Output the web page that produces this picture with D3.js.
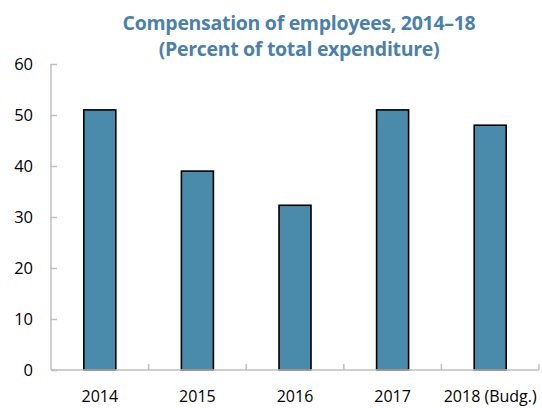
<html>
<head>
<script src="https://d3js.org/d3.v7.min.js"></script>
<style>
body { margin: 0; background: #fff; }
text { font-family: "Open Sans", sans-serif; }
</style>
</head>
<body>
<svg width="542" height="408"></svg>
<script>
var years = ["2014", "2015", "2016", "2017", "2018 (Budg.)"];
var values = [51, 39, 32.3, 51, 48];
var yTicks = [0, 10, 20, 30, 40, 50, 60];
var titleLines = ["Compensation of employees, 2014\u201318", "(Percent of total expenditure)"];

var svg = d3.select("svg"),
    margin = {top: 64, right: 3, bottom: 38, left: 51},
    width = +svg.attr("width") - margin.left - margin.right,
    height = +svg.attr("height") - margin.top - margin.bottom,
    g = svg.append("g").attr("transform", "translate(" + margin.left + "," + margin.top + ")");

var x = d3.scaleBand().domain(years).range([0, width]).padding(0);
var y = d3.scaleLinear().domain([0, 60]).range([height, 0]);

// title, two separate lines
svg.selectAll(".title")
    .data(titleLines)
  .enter().append("text")
    .attr("class", "title")
    .attr("x", 299)
    .attr("y", function(d, i) { return 30 + i * 26; })
    .attr("text-anchor", "middle")
    .attr("fill", "#4a80ab")
    .style("font-weight", "bold")
    .style("font-size", "19.5px")
    .style("letter-spacing", "-0.3px")
    .text(function(d) { return d; });

// y axis
var yAxis = g.append("g")
    .call(d3.axisRight(y).tickValues(yTicks).tickSize(6).tickFormat(d3.format("d")));
yAxis.select(".domain").attr("stroke", "#bfbfbf").attr("stroke-width", 1.5).attr("d", "M0," + height + "V0");
yAxis.selectAll(".tick line").attr("stroke", "#bfbfbf").attr("stroke-width", 1.5);
yAxis.selectAll(".tick text")
    .attr("x", -18).attr("text-anchor", "end")
    .style("font-size", "16.5px").attr("fill", "#000");

// bars
g.selectAll(".bar")
    .data(values)
  .enter().append("rect")
    .attr("class", "bar")
    .attr("x", function(d, i) { return x(years[i]) + x.bandwidth() / 2 - 16; })
    .attr("width", 32)
    .attr("y", function(d) { return y(d); })
    .attr("height", function(d) { return height - y(d); })
    .attr("fill", "#4a8bab")
    .attr("stroke", "#000")
    .attr("stroke-width", 1.6);

// x axis
var xAxis = g.append("g").attr("transform", "translate(0," + height + ")");
xAxis.append("line")
    .attr("x1", 0).attr("x2", width)
    .attr("stroke", "#bfbfbf").attr("stroke-width", 1.5);
xAxis.selectAll(".sep")
    .data(years.slice(1).concat(["end"]))
  .enter().append("line")
    .attr("class", "sep")
    .attr("x1", function(d, i) { return x.step() * (i + 1); })
    .attr("x2", function(d, i) { return x.step() * (i + 1); })
    .attr("y1", 0).attr("y2", -6)
    .attr("stroke", "#bfbfbf").attr("stroke-width", 1.5);
xAxis.selectAll(".lab")
    .data(years)
  .enter().append("text")
    .attr("class", "lab")
    .attr("x", function(d) { return x(d) + x.bandwidth() / 2; })
    .attr("y", 32)
    .attr("text-anchor", "middle")
    .style("font-size", "16px")
    .text(function(d) { return d; });
</script>
</body>
</html>
